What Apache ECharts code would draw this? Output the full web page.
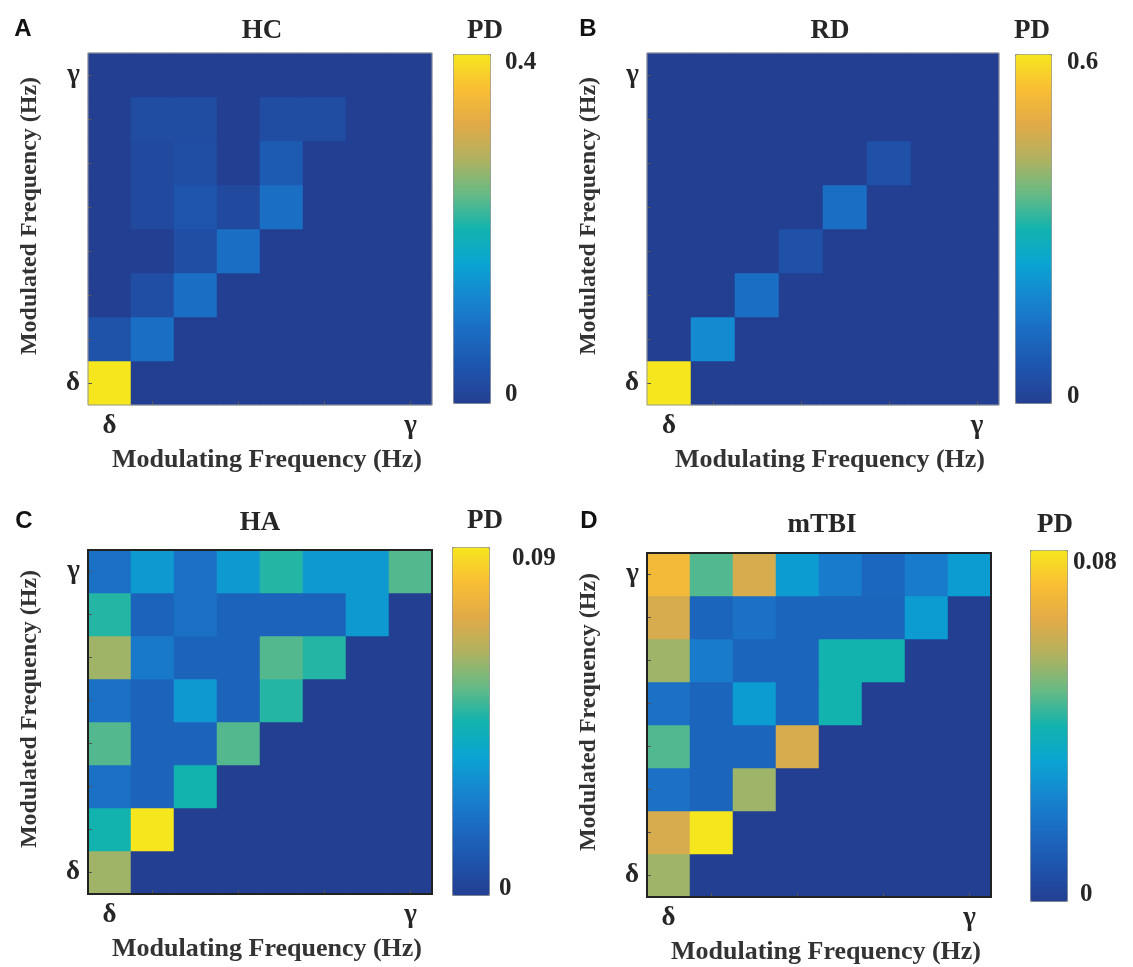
<!DOCTYPE html>
<html>
<head>
<meta charset="utf-8">
<title>PD heatmaps</title>
<script src="https://cdn.jsdelivr.net/npm/echarts@6/dist/echarts.min.js"></script>
<style>
  html, body { margin: 0; padding: 0; background: #fff; }
  #main { width: 1133px; height: 967px; }
</style>
</head>
<body>
<div id="main"></div>
<script>
//*************** data ***************
// rows go from delta (bottom) to gamma (top), columns from delta (left) to gamma (right)
var bandTicks = ['δ', '', '', '', '', '', '', 'γ'];
var panelLetters = ['A', 'B', 'C', 'D'];
var groupNames = ['HC', 'RD', 'HA', 'mTBI'];
var pdMax = [0.4, 0.6, 0.09, 0.08];
var pdMin = [0, 0, 0, 0];
var xTitle = 'Modulating Frequency (Hz)';
var yTitle = 'Modulated Frequency (Hz)';
var cbarTitle = 'PD';

var hcRows = [
    [0.4,   0,     0,     0,     0,     0,     0, 0],
    [0.036, 0.088, 0,     0,     0,     0,     0, 0],
    [0,     0.028, 0.088, 0,     0,     0,     0, 0],
    [0,     0,     0.028, 0.088, 0,     0,     0, 0],
    [0,     0.02,  0.04,  0.02,  0.088, 0,     0, 0],
    [0,     0.02,  0.028, 0,     0.05,  0,     0, 0],
    [0,     0.025, 0.025, 0,     0.025, 0.025, 0, 0],
    [0,     0,     0,     0,     0,     0,     0, 0]
];
var rdRows = [
    [0.6, 0,    0,    0,    0,    0,    0, 0],
    [0,   0.19, 0,    0,    0,    0,    0, 0],
    [0,   0,    0.13, 0,    0,    0,    0, 0],
    [0,   0,    0,    0.05, 0,    0,    0, 0],
    [0,   0,    0,    0,    0.13, 0,    0, 0],
    [0,   0,    0,    0,    0,    0.05, 0, 0],
    [0,   0,    0,    0,    0,    0,    0, 0],
    [0,   0,    0,    0,    0,    0,    0, 0]
];
var haRows = [
    [0.061, 0,     0,     0,     0,     0,     0,     0],
    [0.045, 0.09,  0,     0,     0,     0,     0,     0],
    [0.02,  0.015, 0.045, 0,     0,     0,     0,     0],
    [0.052, 0.015, 0.015, 0.052, 0,     0,     0,     0],
    [0.02,  0.015, 0.033, 0.015, 0.047, 0,     0,     0],
    [0.061, 0.023, 0.015, 0.015, 0.052, 0.047, 0,     0],
    [0.047, 0.015, 0.02,  0.015, 0.015, 0.015, 0.033, 0],
    [0.02,  0.033, 0.02,  0.033, 0.047, 0.033, 0.033, 0.052]
];
var mtbiRows = [
    [0.054, 0,     0,     0,     0,     0,     0,     0],
    [0.062, 0.08,  0,     0,     0,     0,     0,     0],
    [0.018, 0.014, 0.054, 0,     0,     0,     0,     0],
    [0.046, 0.014, 0.014, 0.062, 0,     0,     0,     0],
    [0.018, 0.014, 0.03,  0.014, 0.04,  0,     0,     0],
    [0.054, 0.021, 0.014, 0.014, 0.04,  0.04,  0,     0],
    [0.062, 0.014, 0.018, 0.014, 0.014, 0.014, 0.03,  0],
    [0.07,  0.046, 0.062, 0.03,  0.021, 0.015, 0.021, 0.03]
];
var panelRows = [hcRows, rdRows, haRows, mtbiRows];

// parula-like colormap, evenly spaced from 0 to max
var parula = ['#233f92', '#1e54ac', '#1b6ac2', '#1685d0', '#0aa4d2', '#12b3ae',
              '#66ba84', '#b0b260', '#e2aa48', '#f9be34', '#f6e61e'];

//*************** layout ***************
// grid sizes are multiples of 8 so the cells land on whole pixels
var layout = [
    {grid: [88, 53, 344, 352],  cbar: [453, 54, 37, 349],   frame: '#9a9a9a', frameW: 1,
     letter: [23, 29],  title: [262, 31],  pd: [485, 31],   hi: [505, 63],   lo: [505, 395]},
    {grid: [647, 53, 352, 352], cbar: [1015, 54, 36, 349],  frame: '#9a9a9a', frameW: 1,
     letter: [588, 29], title: [830, 31],  pd: [1032, 31],  hi: [1067, 63],  lo: [1067, 397]},
    {grid: [88, 550, 344, 344], cbar: [452, 547, 37, 348],  frame: '#222',    frameW: 2,
     letter: [24, 521], title: [260, 523], pd: [485, 521],  hi: [512, 559],  lo: [499, 889]},
    {grid: [647, 553, 344, 344], cbar: [1030, 550, 37, 351], frame: '#222',   frameW: 2,
     letter: [589, 521], title: [822, 525], pd: [1055, 525], hi: [1073, 563], lo: [1080, 895]}
];

var serif = '"Liberation Serif", "Times New Roman", serif';
var textColor = '#262626';

function cells(rows) {
    var out = [];
    for (var y = 0; y < rows.length; y++) {
        for (var x = 0; x < rows[y].length; x++) {
            out.push([x, y, rows[y][x]]);
        }
    }
    return out;
}

var grids = [], xAxes = [], yAxes = [], series = [], visualMaps = [], graphics = [];

for (var i = 0; i < 4; i++) {
    var L = layout[i];
    grids.push({left: L.grid[0], top: L.grid[1], width: L.grid[2], height: L.grid[3], containLabel: false});

    xAxes.push({
        type: 'category', gridIndex: i, data: bandTicks, z: 5,
        axisLine: {show: false},
        axisTick: {show: true, inside: true, length: 4, alignWithLabel: true,
                   interval: function (idx) { return idx % 2 === 1; },
                   lineStyle: {color: '#555'}},
        axisLabel: {interval: 0, margin: 8, fontFamily: serif, fontWeight: 'bold', fontSize: 27, color: textColor},
        name: xTitle, nameLocation: 'middle', nameGap: 42,
        nameTextStyle: {fontFamily: serif, fontWeight: 'bold', fontSize: 26, color: '#333', padding: [0, 0, 0, 14]},
        splitLine: {show: false}
    });
    yAxes.push({
        type: 'category', gridIndex: i, data: bandTicks, z: 5,
        axisLine: {show: false},
        axisTick: {show: true, inside: true, length: 4, alignWithLabel: true, lineStyle: {color: '#555'}},
        axisLabel: {interval: 0, margin: 8, fontFamily: serif, fontWeight: 'bold', fontSize: 27, color: textColor},
        name: yTitle, nameLocation: 'middle', nameRotate: 90, nameGap: 46,
        nameTextStyle: {fontFamily: serif, fontWeight: 'bold', fontSize: 24, color: '#333', padding: [0, 0, 0, 26]},
        splitLine: {show: false}
    });

    series.push({
        type: 'heatmap', name: groupNames[i], xAxisIndex: i, yAxisIndex: i,
        data: cells(panelRows[i]),
        itemStyle: {borderWidth: 0},
        emphasis: {disabled: true}
    });

    visualMaps.push({
        type: 'continuous', seriesIndex: i, min: pdMin[i], max: pdMax[i],
        orient: 'vertical', calculable: false, realtime: false,
        left: L.cbar[0], top: L.cbar[1], itemWidth: L.cbar[2], itemHeight: L.cbar[3],
        padding: 0, borderColor: '#8a8a8a', borderWidth: 1,
        inRange: {color: parula}
    });

    // frame around the heatmap
    graphics.push({
        type: 'rect', z: 100, silent: true,
        shape: {x: L.grid[0], y: L.grid[1], width: L.grid[2], height: L.grid[3]},
        style: {fill: 'transparent', stroke: L.frame, lineWidth: L.frameW}
    });
    // panel letter
    graphics.push({
        type: 'text', x: L.letter[0], y: L.letter[1], z: 100,
        style: {text: panelLetters[i], font: 'bold 24px "Liberation Sans", Arial, sans-serif',
                fill: '#111', align: 'center', verticalAlign: 'middle'}
    });
    // group title
    graphics.push({
        type: 'text', x: L.title[0], y: L.title[1], z: 100,
        style: {text: groupNames[i], font: 'bold 27px ' + serif,
                fill: textColor, align: 'center', verticalAlign: 'middle'}
    });
    // colorbar title
    graphics.push({
        type: 'text', x: L.pd[0], y: L.pd[1], z: 100,
        style: {text: cbarTitle, font: 'bold 27px ' + serif,
                fill: textColor, align: 'center', verticalAlign: 'middle'}
    });
    // colorbar end labels
    graphics.push({
        type: 'text', x: L.hi[0], y: L.hi[1], z: 100,
        style: {text: String(pdMax[i]), font: 'bold 25px ' + serif,
                fill: textColor, align: 'left', verticalAlign: 'middle'}
    });
    graphics.push({
        type: 'text', x: L.lo[0], y: L.lo[1], z: 100,
        style: {text: String(pdMin[i]), font: 'bold 25px ' + serif,
                fill: textColor, align: 'left', verticalAlign: 'middle'}
    });
}

var chart = echarts.init(document.getElementById('main'), null, {renderer: 'canvas'});
chart.setOption({
    animation: false,
    backgroundColor: '#fff',
    grid: grids,
    xAxis: xAxes,
    yAxis: yAxes,
    visualMap: visualMaps,
    series: series,
    graphic: graphics
});
</script>
</body>
</html>
